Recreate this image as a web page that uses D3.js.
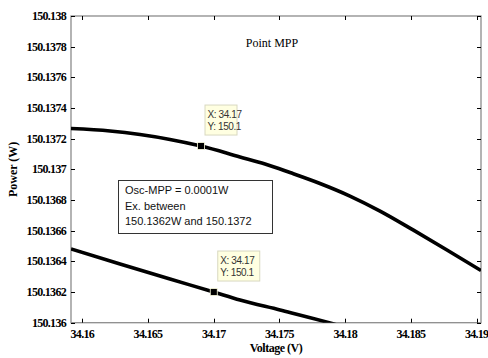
<!DOCTYPE html>
<html>
<head>
<meta charset="utf-8">
<script src="https://cdn.jsdelivr.net/npm/d3@7"></script>
<style>
  body { margin: 0; background: #fff; }
  svg { display: block; }
</style>
</head>
<body>
<div id="app"></div>
<script>
// data
var voltageA = [34.15914, 34.16211, 34.16439, 34.16667, 34.16903, 34.17199, 34.17390, 34.17580, 34.17808, 34.18036, 34.18265, 34.18516, 34.18774, 34.19033];
var powerA = [150.137266, 150.13725, 150.137227, 150.137195, 150.137152, 150.137081, 150.137035, 150.136979, 150.136908, 150.136826, 150.136728, 150.136605, 150.136474, 150.13634];
var voltageB = [34.15914, 34.16287, 34.16667, 34.17, 34.172, 34.17504, 34.17885, 34.18113];
var powerB = [150.136481, 150.136383, 150.136285, 150.1362, 150.136148, 150.136083, 150.135998, 150.135939];
var tipsX = [34.16903, 34.17];
var tipsY = [150.137152, 150.1362];
var tipText = [["X: 34.17", "Y: 150.1"], ["X: 34.17", "Y: 150.1"]];
var xTicks = [34.16, 34.165, 34.17, 34.175, 34.18, 34.185, 34.19];
var yTicks = [150.136, 150.1362, 150.1364, 150.1366, 150.1368, 150.137, 150.1372, 150.1374, 150.1376, 150.1378, 150.138];
var noteLines = ["Osc-MPP = 0.0001W", "Ex. between", "150.1362W and 150.1372"];

var width = 488, height = 358;
var pLeft = 71, pRight = 481, pTop = 16, pBottom = 322.7;
var serif = "'Liberation Serif', 'Times New Roman', 'DejaVu Serif', serif";
var sans = "'Liberation Sans', Arial, sans-serif";

var svg = d3.select("#app").append("svg")
  .attr("width", width)
  .attr("height", height);

var x = d3.scaleLinear().domain([34.15914, 34.19033]).range([pLeft, pRight]);
var y = d3.scaleLinear().domain([150.136, 150.138]).range([pBottom, pTop]);

svg.append("clipPath").attr("id", "plotclip")
  .append("rect")
  .attr("x", pLeft).attr("y", pTop)
  .attr("width", pRight - pLeft).attr("height", pBottom - pTop);

// frame
svg.append("rect")
  .attr("x", pLeft).attr("y", pTop)
  .attr("width", pRight - pLeft).attr("height", pBottom - pTop)
  .attr("fill", "none").attr("stroke", "#8c8c8c").attr("stroke-width", 1.3);

// ticks (inside, all four sides)
var tk = 4;
var g = svg.append("g").attr("stroke", "#000").attr("stroke-width", 1);
xTicks.forEach(function (v) {
  var px = Math.round(x(v)) + 0.5;
  g.append("line").attr("x1", px).attr("x2", px).attr("y1", pBottom).attr("y2", pBottom - tk);
  g.append("line").attr("x1", px).attr("x2", px).attr("y1", pTop).attr("y2", pTop + tk);
});
yTicks.forEach(function (v) {
  var py = Math.round(y(v)) + 0.5;
  g.append("line").attr("x1", pLeft).attr("x2", pLeft + tk).attr("y1", py).attr("y2", py);
  g.append("line").attr("x1", pRight).attr("x2", pRight - tk).attr("y1", py).attr("y2", py);
});

svg.append("g").selectAll("text").data(xTicks).enter().append("text")
  .attr("x", function (d) { return x(d); })
  .attr("y", 338)
  .attr("text-anchor", "middle")
  .style("font-family", serif).style("font-weight", "bold")
  .style("font-size", "12px").style("letter-spacing", "-0.7px")
  .text(function (d) { return d3.format("")(d); });

svg.append("g").selectAll("text").data(yTicks).enter().append("text")
  .attr("x", 66)
  .attr("y", function (d) { return y(d) + 4; })
  .attr("text-anchor", "end")
  .style("font-family", serif).style("font-weight", "bold")
  .style("font-size", "12px").style("letter-spacing", "-0.7px")
  .text(function (d) { return d3.format("")(d); });

// axis titles
svg.append("text")
  .attr("x", 276).attr("y", 352)
  .attr("text-anchor", "middle")
  .style("font-family", serif)
  .style("font-weight", "bold").style("font-size", "12px")
  .style("letter-spacing", "-0.5px")
  .text("Voltage (V)");

svg.append("text")
  .attr("transform", "translate(17," + ((pTop + pBottom) / 2) + ") rotate(-90)")
  .attr("text-anchor", "middle")
  .style("font-family", serif)
  .style("font-weight", "bold").style("font-size", "12px")
  .text("Power (W)");

svg.append("text")
  .attr("x", 272).attr("y", 47)
  .attr("text-anchor", "middle")
  .style("font-family", serif)
  .style("font-size", "12px")
  .text("Point MPP");

// curves
var line = d3.line()
  .x(function (d) { return x(d[0]); })
  .y(function (d) { return y(d[1]); })
  .curve(d3.curveMonotoneX);

[[voltageA, powerA], [voltageB, powerB]].forEach(function (s) {
  svg.append("path")
    .datum(d3.zip(s[0], s[1]))
    .attr("clip-path", "url(#plotclip)")
    .attr("fill", "none")
    .attr("stroke", "#000")
    .attr("stroke-width", 3.6)
    .attr("d", line);
});

// note box
var note = svg.append("g");
note.append("rect")
  .attr("x", 118.5).attr("y", 180.5).attr("width", 154).attr("height", 53)
  .attr("fill", "#fff").attr("stroke", "#333").attr("stroke-width", 1);
note.selectAll("text").data(noteLines).enter().append("text")
  .attr("x", 125)
  .attr("y", function (d, i) { return 194 + i * 15.5; })
  .style("font-family", sans)
  .style("font-size", "11px")
  .attr("fill", "#111")
  .text(function (d) { return d; });

// data tips
tipsX.forEach(function (v, i) {
  var px = x(v), py = y(tipsY[i]);
  var bx = px + 4, by = py - 41;
  var tip = svg.append("g");
  tip.append("rect")
    .attr("x", bx).attr("y", by).attr("width", 32 + i * 10).attr("height", 30)
    .attr("fill", "#ffffe1").attr("stroke", "#d8d8c0").attr("stroke-width", 1);
  tipText[i].forEach(function (t, j) {
    tip.append("text")
      .attr("x", bx + 2.5).attr("y", by + 12.5 + j * 12)
      .style("font-family", sans)
      .style("font-size", "10px")
      .style("letter-spacing", "-0.4px")
      .attr("fill", "#333")
      .text(t);
  });
  svg.append("rect")
    .attr("x", px - 3.5).attr("y", py - 3.5).attr("width", 7).attr("height", 7)
    .attr("fill", "#000").attr("stroke", "#ffffe1").attr("stroke-width", 0.8);
});
</script>
</body>
</html>
